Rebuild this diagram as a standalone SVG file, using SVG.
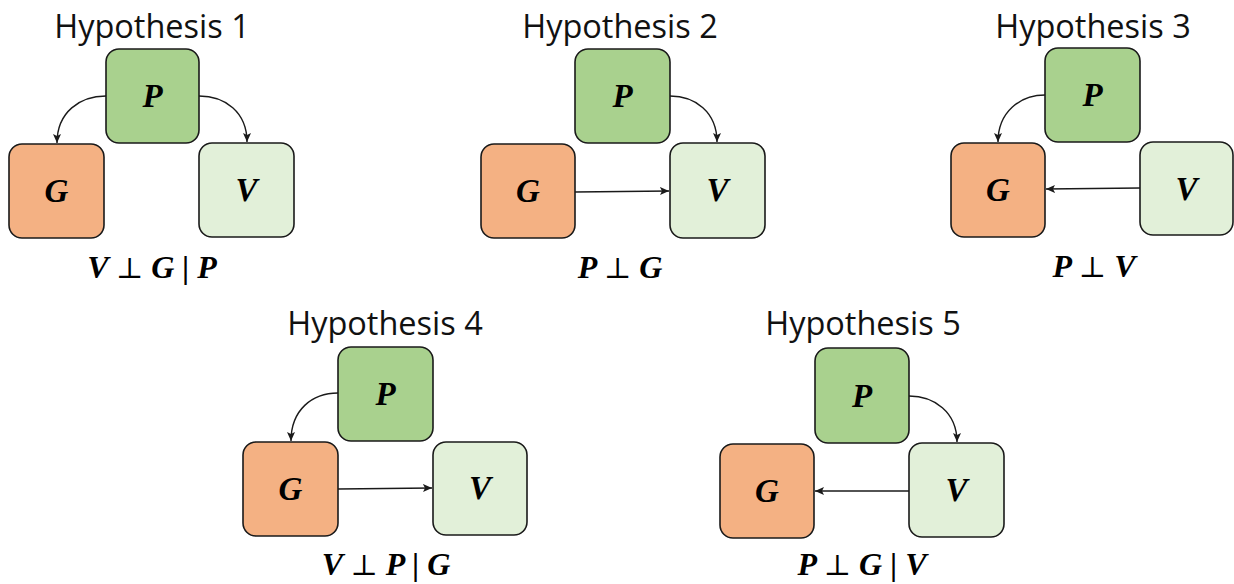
<svg xmlns="http://www.w3.org/2000/svg" width="1234" height="584" viewBox="0 0 1234 584">
<style>
.box{stroke:#1a1a1a;stroke-width:1.6}
.p{fill:#a9d18e}.g{fill:#f4b183}.v{fill:#e2f0d9}
.lbl{font-family:"Liberation Serif",serif;font-weight:bold;font-style:italic;font-size:33px;text-anchor:middle;fill:#000}
.title{font-family:"Open Sans","Noto Sans",sans-serif;font-size:32.5px;text-anchor:middle;fill:#111}
.f{font-family:"Liberation Serif",serif;font-weight:bold;font-style:italic;font-size:32px;text-anchor:middle;fill:#000}
.perp{font-family:"DejaVu Serif",serif;font-weight:normal;font-style:normal;font-size:29px}
.edge{fill:none;stroke:#1a1a1a;stroke-width:1.4;marker-end:url(#ah)}
</style>
<defs>
<marker id="ah" markerUnits="userSpaceOnUse" markerWidth="10" markerHeight="10" refX="9" refY="5" orient="auto">
<path d="M0,1 L9,5 L0,9 L2,5 z" fill="#1a1a1a"/>
</marker>
</defs>

<g id="titles">
<text class="title" x="152" y="38">Hypothesis 1</text>
<text class="title" x="620" y="38">Hypothesis 2</text>
<text class="title" x="1093" y="38">Hypothesis 3</text>
<text class="title" x="385" y="335">Hypothesis 4</text>
<text class="title" x="863" y="335">Hypothesis 5</text>
</g>

<g id="connectors">
<path class="edge" d="M106,96 C80,96 57,112 57,143"/>
<path class="edge" d="M199,96 C225,96 247,112 247,142"/>
<path class="edge" d="M670,96 C695,96 717,112 717,142"/>
<path class="edge" d="M575,192 L669,191"/>
<path class="edge" d="M1045,95 C1020,95 998,112 998,142"/>
<path class="edge" d="M1140,188 L1046,189"/>
<path class="edge" d="M338,393 C312,393 291,410 291,441"/>
<path class="edge" d="M338,489 L432,488"/>
<path class="edge" d="M909,396 C934,396 957,412 957,442"/>
<path class="edge" d="M909,491 L815,491"/>
</g>

<g id="h1">
<g id="h1-P"><rect class="box p" x="106" y="49" width="93" height="94" rx="13"/><text class="lbl" x="152.5" y="107">P</text></g>
<g id="h1-G"><rect class="box g" x="9" y="144" width="95" height="94" rx="13"/><text class="lbl" x="56.5" y="202">G</text></g>
<g id="h1-V"><rect class="box v" x="199" y="143" width="95" height="94" rx="13"/><text class="lbl" x="246.5" y="201">V</text></g>
<text class="f" x="152" y="278">V <tspan class="perp">⊥</tspan> G | P</text>
</g>

<g id="h2">
<g id="h2-P"><rect class="box p" x="575" y="49" width="95" height="94" rx="13"/><text class="lbl" x="622.5" y="107">P</text></g>
<g id="h2-G"><rect class="box g" x="481" y="144" width="94" height="94" rx="13"/><text class="lbl" x="528" y="202">G</text></g>
<g id="h2-V"><rect class="box v" x="670" y="143" width="95" height="95" rx="13"/><text class="lbl" x="717.5" y="201">V</text></g>
<text class="f" x="620" y="278">P <tspan class="perp">⊥</tspan> G</text>
</g>

<g id="h3">
<g id="h3-P"><rect class="box p" x="1045" y="48" width="95" height="94" rx="13"/><text class="lbl" x="1092.5" y="106">P</text></g>
<g id="h3-G"><rect class="box g" x="951" y="143" width="94" height="94" rx="13"/><text class="lbl" x="998" y="201">G</text></g>
<g id="h3-V"><rect class="box v" x="1140" y="142" width="93" height="93" rx="13"/><text class="lbl" x="1186.5" y="200">V</text></g>
<text class="f" x="1094" y="277">P <tspan class="perp">⊥</tspan> V</text>
</g>

<g id="h4">
<g id="h4-P"><rect class="box p" x="338" y="347" width="95" height="94" rx="13"/><text class="lbl" x="385.5" y="405">P</text></g>
<g id="h4-G"><rect class="box g" x="243" y="442" width="95" height="94" rx="13"/><text class="lbl" x="290.5" y="500">G</text></g>
<g id="h4-V"><rect class="box v" x="433" y="442" width="94" height="93" rx="13"/><text class="lbl" x="480" y="499">V</text></g>
<text class="f" x="386" y="575">V <tspan class="perp">⊥</tspan> P | G</text>
</g>

<g id="h5">
<g id="h5-P"><rect class="box p" x="815" y="348" width="94" height="95" rx="13"/><text class="lbl" x="862" y="407">P</text></g>
<g id="h5-G"><rect class="box g" x="720" y="444" width="94" height="94" rx="13"/><text class="lbl" x="767" y="502">G</text></g>
<g id="h5-V"><rect class="box v" x="909" y="443" width="95" height="94" rx="13"/><text class="lbl" x="956.5" y="501">V</text></g>
<text class="f" x="862" y="575">P <tspan class="perp">⊥</tspan> G | V</text>
</g>
</svg>
